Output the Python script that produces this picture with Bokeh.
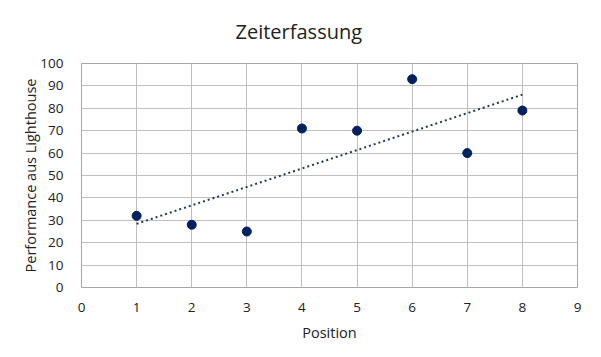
import numpy as np
from bokeh.plotting import figure
from bokeh.models import Range1d, FixedTicker, Title
from bokeh.embed import file_html
from bokeh.resources import INLINE

positions = [1, 2, 3, 4, 5, 6, 7, 8]
performance = [32, 28, 25, 71, 70, 93, 60, 79]
x_ticks = list(range(0, 10))
y_ticks = list(range(0, 101, 10))
title_text = "Zeiterfassung"

FONT = "Open Sans"
p = figure(width=601, height=357, output_backend="svg", toolbar_location=None,
           x_range=Range1d(0, 9), y_range=Range1d(0, 100),
           min_border_left=81, min_border_right=24, min_border_top=63, min_border_bottom=70)
p.title = None
p.add_layout(Title(text=title_text, align="left", text_font=FONT,
                   text_font_size="20px", text_font_style="normal", text_color="#222222",
                   standoff=33, offset=154, vertical_align="top", text_line_height=1.0), "above")

p.background_fill_color = "white"
p.border_fill_color = "white"
p.outline_line_color = "#a6a6a6"
p.outline_line_width = 1

for ax in (p.xaxis, p.yaxis):
    ax.axis_line_color = None
    ax.major_tick_line_color = None
    ax.minor_tick_line_color = None
    ax.major_label_text_font = FONT
    ax.major_label_text_font_size = "13.5px"
    ax.major_label_text_color = "#222222"
    ax.axis_label_text_font = FONT
    ax.axis_label_text_font_size = "14.5px"
    ax.axis_label_text_font_style = "normal"
    ax.axis_label_text_color = "#222222"

p.xaxis.ticker = FixedTicker(ticks=x_ticks)
p.yaxis.ticker = FixedTicker(ticks=y_ticks)
p.xaxis.axis_label = "Position"
p.yaxis.axis_label = "Performance aus Lighthouse"
p.xaxis.major_label_standoff = 9
p.yaxis.major_label_standoff = 12
p.xaxis.axis_label_standoff = 8
p.yaxis.axis_label_standoff = -3

p.xgrid.grid_line_color = "#bfbfbf"
p.ygrid.grid_line_color = "#bfbfbf"

# linear trendline (least squares)
xs = np.array(positions, dtype=float)
ys = np.array(performance, dtype=float)
slope, intercept = np.polyfit(xs, ys, 1)
tx = [xs.min(), xs.max()]
ty = [slope * v + intercept for v in tx]
p.line(tx, ty, line_color="#1f3864", line_width=2, line_dash="2 3")

p.scatter(positions, performance, size=9, fill_color="#002060", line_color="#002060")

open("out.html", "w").write(file_html(p, INLINE))
